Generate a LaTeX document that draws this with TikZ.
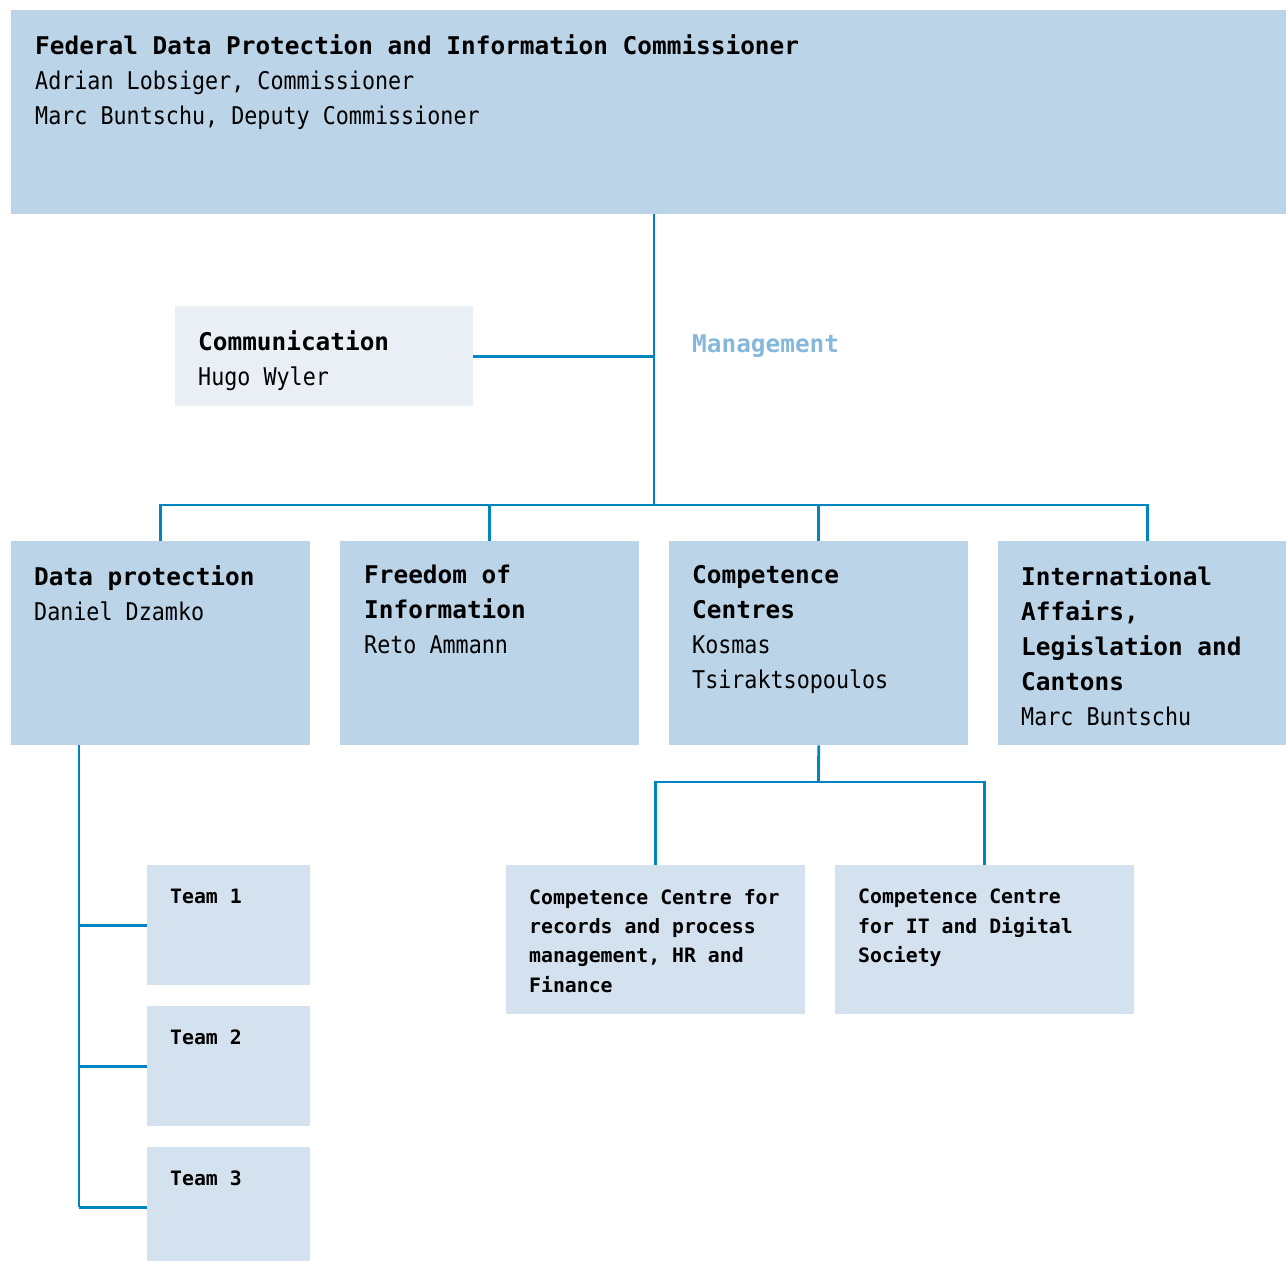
\documentclass[tikz,border=0pt]{standalone}
\usepackage{fontspec}
\newfontfamily\orgfont[UprightFeatures={FakeStretch=0.89}]{DejaVu Sans Mono}
\usepackage{tikz}
\usetikzlibrary{positioning, calc}
\definecolor{unitblue}{RGB}{188,212,232}
\definecolor{teamblue}{RGB}{212,226,239}
\definecolor{staffgrey}{RGB}{234,239,246}
\definecolor{linkblue}{RGB}{0,133,192}
\definecolor{mgmtblue}{RGB}{134,184,220}

\tikzset{
  unit/.style={fill=unitblue, anchor=north west, inner sep=0pt, minimum width=299pt, minimum height=204pt},
  subunit/.style={fill=teamblue, anchor=north west, inner sep=0pt, minimum width=299pt, minimum height=149pt},
  teambox/.style={fill=teamblue, anchor=north west, inner sep=0pt, minimum width=163pt, minimum height=120pt},
  bigtxt/.style={anchor=north west, align=left, inner sep=0pt, font=\orgfont\fontsize{24.4}{35}\selectfont},
  smalltxt/.style={anchor=north west, align=left, inner sep=0pt, font=\orgfont\bfseries\fontsize{19.8}{29.3}\selectfont},
  link/.style={draw=linkblue, line width=2.8pt},
}

\begin{document}
\begin{tikzpicture}[x=1pt, y=-1pt]
  \useasboundingbox (0,0) rectangle (1286,1261);

  % Commissioner
  \node[fill=unitblue, anchor=north west, inner sep=0pt, minimum width=1290pt, minimum height=204pt] (fdpic) at (11,10) {};
  \node[bigtxt] (fdpictxt) at ([shift={(24,24)}]fdpic.north west)
    {\textbf{Federal Data Protection and Information Commissioner}\\
     Adrian Lobsiger, Commissioner\\
     Marc Buntschu, Deputy Commissioner};

  % Staff unit
  \node[fill=staffgrey, anchor=north west, inner sep=0pt, minimum width=298pt, minimum height=100pt] (comm) at (175,306) {};
  \node[bigtxt] (commtxt) at ([shift={(23,24)}]comm.north west) {\textbf{Communication}\\Hugo Wyler};

  \node[anchor=base west, inner sep=0pt, text=mgmtblue, font=\orgfont\bfseries\fontsize{24.4}{35}\selectfont] (mgmt) at (692,352) {Management};

  % Divisions
  \node[unit] (dp) at (11,541) {};
  \node[unit] (foi) at (340,541) {};
  \node[unit] (cc) at (669,541) {};
  \node[unit] (ia) at (998,541) {};
  \node[bigtxt] (dptxt) at ([shift={(23,24)}]dp.north west) {\textbf{Data protection}\\Daniel Dzamko};
  \node[bigtxt] (foitxt) at ([shift={(24,24)}]foi.north west) {\textbf{Freedom of}\\\textbf{Information}\\Reto Ammann};
  \node[bigtxt] (cctxt) at ([shift={(23,24)}]cc.north west) {\textbf{Competence}\\\textbf{Centres}\\Kosmas\\Tsiraktsopoulos};
  \node[bigtxt] (iatxt) at ([shift={(23,24)}]ia.north west) {\textbf{International}\\\textbf{Affairs,}\\\textbf{Legislation and}\\\textbf{Cantons}\\Marc Buntschu};

  % Competence centres
  \node[subunit] (ccrec) at (506,865) {};
  \node[subunit] (ccit) at (835,865) {};
  \node[smalltxt] (ccrectxt) at ([shift={(23,24)}]ccrec.north west) {Competence Centre for\\records and process\\management, HR and\\Finance};
  \node[smalltxt] (ccittxt) at ([shift={(23,24)}]ccit.north west) {Competence Centre\\for IT and Digital\\Society};

  % Connectors
  \coordinate (hub) at (654,505);
  \coordinate (ccfork) at (818.5,782);
  \coordinate (spine) at (79,745);
  \draw[link] (fdpic.south -| hub) -- (hub);
  \draw[link] (comm.east) -- (comm.east -| hub);
  \draw[link] (dp.north) |- (hub) -| (ia.north);
  \draw[link] (foi.north) -- (foi.north |- hub);
  \draw[link] (cc.north) -- (cc.north |- hub);
  \draw[link] (cc.south) -- (ccfork);
  \draw[link] (ccrec.north) |- (ccfork) -| (ccit.north);

  % Teams
  \foreach \i/\y in {1/865, 2/1006, 3/1147} {
    \node[teambox] (team\i) at (147,\y) {};
    \node[smalltxt] (team\i txt) at ([shift={(23,24)}]team\i.north west) {Team \i};
    \draw[link] (team\i.west) -- (team\i.west -| spine);
  }
  \draw[link] (spine) -- (spine |- team3.west);
\end{tikzpicture}
\end{document}
